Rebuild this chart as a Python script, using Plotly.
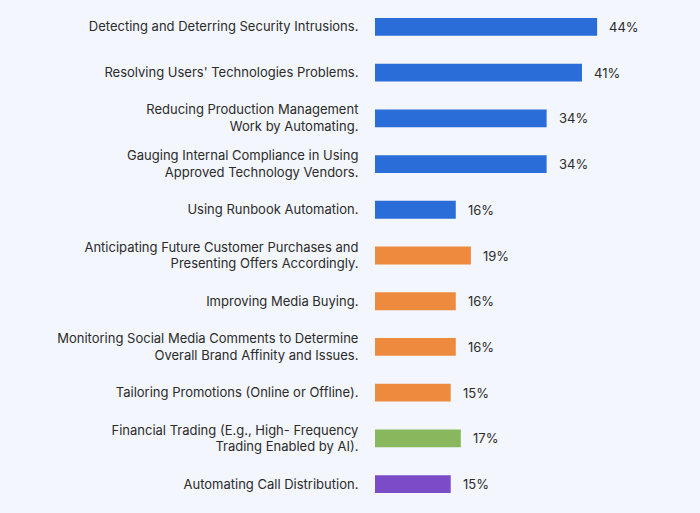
import plotly.graph_objects as go

# survey answers, top to bottom
labels = [
    "Detecting and Deterring Security Intrusions.",
    "Resolving Users' Technologies Problems.",
    "Reducing Production Management<br>Work by Automating.",
    "Gauging Internal Compliance in Using<br>Approved Technology Vendors.",
    "Using Runbook Automation.",
    "Anticipating Future Customer Purchases and<br>Presenting Offers Accordingly.",
    "Improving Media Buying.",
    "Monitoring Social Media Comments to Determine<br>Overall Brand Affinity and Issues.",
    "Tailoring Promotions (Online or Offline).",
    "Financial Trading (E.g., High- Frequency<br>Trading Enabled by AI).",
    "Automating Call Distribution.",
]
values = [44, 41, 34, 34, 16, 19, 16, 16, 15, 17, 15]
groups = ["it", "it", "it", "it", "it", "mkt", "mkt", "mkt", "mkt", "fin", "call"]

group_colors = {"it": "#2b6dd8", "mkt": "#ee8a3e", "fin": "#88b75d", "call": "#7a4cc8"}
bg = "#f3f6fc"

fig = go.Figure()
fig.add_trace(go.Bar(
    x=values, y=labels, orientation="h",
    marker=dict(color=[group_colors[g] for g in groups], line=dict(width=0)),
    width=0.39, hoverinfo="x+y",
))

# percent labels to the right of each bar
for lab, v in zip(labels, values):
    fig.add_annotation(x=v, y=lab, text=f"{v}%", showarrow=False,
                       xanchor="left", xshift=10,
                       font=dict(family="Inter", size=13, color="#2b2b2b"))

fig.update_layout(
    width=700, height=513,
    margin=dict(l=375, r=10, t=4, b=6),
    paper_bgcolor=bg, plot_bgcolor=bg,
    showlegend=False,
    font=dict(family="Inter", size=13, color="#2b2b2b"),
)
fig.update_xaxes(range=[0, 62.4], visible=False, fixedrange=True)
fig.update_yaxes(range=[10.5, -0.5], showgrid=False, zeroline=False, showline=False,
                 ticks="outside", ticklen=13, tickcolor=bg, automargin=False,
                 fixedrange=True)

# page body has a default margin, drop it so the figure fills the window
fig.write_html("out.html", config={"displayModeBar": False},
               post_script="document.body.style.margin='0';document.body.style.background='%s';" % bg)
